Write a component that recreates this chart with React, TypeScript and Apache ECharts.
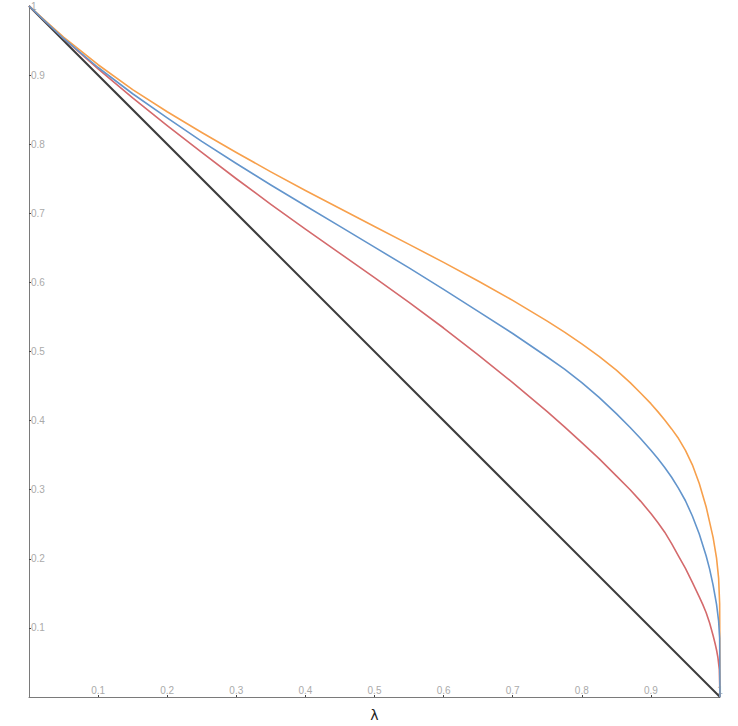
import React, { useEffect, useRef } from "react";
import * as echarts from "echarts";

const orangeData: [number, number][] = [
  [0, 1], [0.05, 0.955], [0.1, 0.915], [0.15, 0.879], [0.2, 0.847], [0.25, 0.817],
  [0.3, 0.788], [0.35, 0.760], [0.4, 0.733], [0.45, 0.707], [0.5, 0.681],
  [0.55, 0.655], [0.6, 0.629], [0.65, 0.602], [0.7, 0.574], [0.75, 0.544],
  [0.775, 0.528], [0.8, 0.511], [0.825, 0.493], [0.85, 0.473], [0.87, 0.455],
  [0.885, 0.440], [0.9, 0.4245], [0.91, 0.413], [0.92, 0.401], [0.93, 0.388],
  [0.94, 0.374], [0.95, 0.357], [0.96, 0.336], [0.97, 0.309], [0.98, 0.275],
  [0.99, 0.231], [0.995, 0.201], [0.998, 0.172], [0.9995, 0.135], [1, 0],
];

const blueData: [number, number][] = [
  [0, 1], [0.05, 0.953], [0.1, 0.911], [0.15, 0.873], [0.2, 0.838], [0.25, 0.804],
  [0.3, 0.772], [0.35, 0.741], [0.4, 0.711], [0.45, 0.681], [0.5, 0.651],
  [0.55, 0.621], [0.6, 0.590], [0.65, 0.558], [0.7, 0.526], [0.75, 0.492],
  [0.775, 0.4745], [0.8, 0.455], [0.825, 0.4335], [0.85, 0.410], [0.87, 0.390],
  [0.885, 0.374], [0.9, 0.357], [0.91, 0.345], [0.92, 0.332], [0.93, 0.318],
  [0.94, 0.302], [0.95, 0.284], [0.96, 0.262], [0.97, 0.236], [0.98, 0.204],
  [0.985, 0.185], [0.99, 0.162], [0.995, 0.134], [0.998, 0.110], [0.9995, 0.085], [1, 0],
];

const redData: [number, number][] = [
  [0, 1], [0.05, 0.953], [0.1, 0.909], [0.15, 0.867], [0.2, 0.827], [0.25, 0.788],
  [0.3, 0.750], [0.35, 0.713], [0.4, 0.677], [0.45, 0.642], [0.5, 0.607],
  [0.55, 0.571], [0.6, 0.534], [0.65, 0.495], [0.7, 0.455], [0.75, 0.413],
  [0.775, 0.391], [0.8, 0.368], [0.825, 0.345], [0.85, 0.320], [0.87, 0.300],
  [0.885, 0.2835], [0.9, 0.2655], [0.91, 0.2525], [0.92, 0.2385], [0.93, 0.222],
  [0.94, 0.204], [0.95, 0.186], [0.96, 0.166], [0.97, 0.145], [0.975, 0.134],
  [0.98, 0.122], [0.985, 0.107], [0.99, 0.089], [0.993, 0.077], [0.995, 0.068],
  [0.997, 0.057], [0.999, 0.040], [1, 0],
];

const blackData: [number, number][] = [
  [0, 1], [1, 0],
];

const labelFmt = (v: number) => (v === 0 ? "" : String(Math.round(v * 10) / 10));

export default function App() {
  const ref = useRef<HTMLDivElement>(null);
  useEffect(() => {
    if (!ref.current) return;
    const chart = echarts.init(ref.current, null, { renderer: "svg" });
    const axisCommon = {
      type: "value" as const,
      min: 0,
      max: 1,
      interval: 0.1,
      splitLine: { show: false },
      axisLine: { show: true, onZero: false, lineStyle: { color: "#7a7a7a", width: 1 } },
      axisTick: { show: true, inside: true, length: 2, lineStyle: { color: "#444" } },
      axisLabel: {
        inside: true,
        margin: 2,
        color: "#aaaaaa",
        fontSize: 10,
        fontFamily: "Liberation Sans, Arial, sans-serif",
        formatter: labelFmt,
        showMaxLabel: true,
        showMinLabel: false,
      },
    };
    const line = (data: [number, number][], color: string, width: number, z: number) => ({
      type: "line" as const,
      data,
      showSymbol: false,
      symbol: "none",
      smooth: false,
      z,
      lineStyle: { color, width, join: "round" },
    });
    chart.setOption({
      animation: false,
      grid: { left: 29, right: 18, top: 6, bottom: 29, containLabel: false, outerBoundsMode: "none" },
      xAxis: {
        ...axisCommon,
        name: "λ",
        nameLocation: "middle",
        nameGap: 11,
        nameTextStyle: { color: "#222", fontSize: 14, fontFamily: "DejaVu Sans, sans-serif" },
      },
      yAxis: { ...axisCommon },
      series: [
        line(blackData, "#3c3c3c", 2, 2),
        line(redData, "#d46a6c", 1.6, 3),
        line(orangeData, "#f7a04c", 1.6, 4),
        line(blueData, "#6395cc", 1.6, 5),
      ],
    });
    return () => chart.dispose();
  }, []);
  return (
    <div
      ref={ref}
      style={{ position: "fixed", left: 0, top: 0, width: 738, height: 726, background: "#fff" }}
    />
  );
}
